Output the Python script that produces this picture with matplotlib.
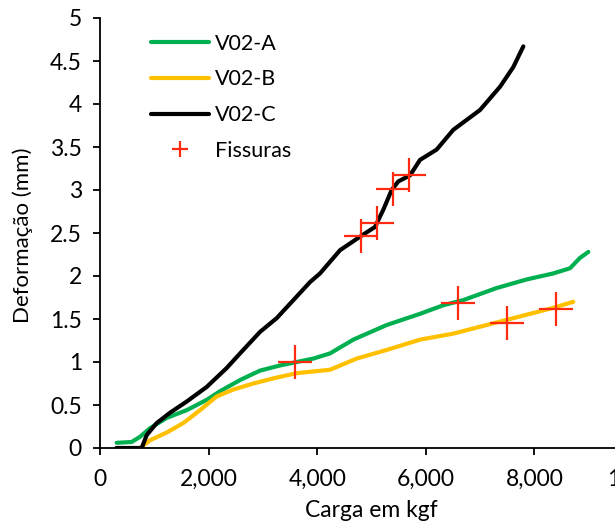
import matplotlib
matplotlib.use("Agg")
import matplotlib.pyplot as plt
from matplotlib.lines import Line2D
from matplotlib.ticker import FuncFormatter, MultipleLocator

plt.rcParams['font.family'] = ['Lato', 'DejaVu Sans']

# V02-A (green)
carga_a = [307, 583, 737, 921, 1228, 1596, 1965, 2210, 2579, 2947, 3316, 3623, 3930,
           4237, 4665, 5279, 5893, 6323, 6691, 7305, 7857, 8348, 8655, 8839, 8993]
deform_a = [0.06, 0.07, 0.13, 0.23, 0.35, 0.44, 0.56, 0.66, 0.79, 0.90, 0.96, 1.00, 1.04,
            1.10, 1.26, 1.43, 1.56, 1.66, 1.72, 1.86, 1.96, 2.03, 2.09, 2.21, 2.28]

# V02-B (yellow)
carga_b = [737, 921, 1228, 1535, 1842, 2149, 2456, 2824, 3193, 3623, 3930, 4237, 4727,
           5279, 5893, 6507, 7121, 7735, 8348, 8716]
deform_b = [0.0, 0.09, 0.18, 0.29, 0.44, 0.60, 0.68, 0.75, 0.81, 0.87, 0.89, 0.91, 1.04,
            1.14, 1.26, 1.33, 1.43, 1.53, 1.63, 1.70]

# V02-C (black)
carga_c = [300, 768, 860, 1044, 1289, 1596, 1965, 2333, 2579, 2947, 3254, 3562, 3869,
           4052, 4420, 4819, 5064, 5217, 5371, 5494, 5709, 5893, 6200, 6507, 6998,
           7366, 7612, 7796]
deform_c = [0.0, 0.0, 0.15, 0.29, 0.41, 0.54, 0.71, 0.93, 1.10, 1.35, 1.51, 1.72, 1.93,
            2.03, 2.30, 2.47, 2.57, 2.77, 3.00, 3.10, 3.17, 3.35, 3.47, 3.70, 3.93,
            4.20, 4.43, 4.67]

# Fissuras
carga_f = [3600, 4800, 5095, 5390, 5697, 6599, 7502, 8398]
deform_f = [1.00, 2.47, 2.62, 3.01, 3.18, 1.69, 1.45, 1.62]

fig = plt.figure(figsize=(6.15, 5.24), dpi=100)
ax = fig.add_axes([100 / 615, 76 / 524, 543 / 615, 430 / 524])

ax.plot(carga_a, deform_a, color='#00B050', lw=3, label='V02-A', solid_capstyle='round')
ax.plot(carga_b, deform_b, color='#FFC000', lw=3, label='V02-B', solid_capstyle='round')
ax.plot(carga_c, deform_c, color='black', lw=3, label='V02-C', solid_capstyle='round')
ax.plot(carga_f, deform_f, ls='none', marker='+', ms=24, mew=1.6, color='#FF2A10')

ax.set_xlim(0, 10000)
ax.set_ylim(0, 5)
ax.xaxis.set_major_locator(MultipleLocator(2000))
ax.yaxis.set_major_locator(MultipleLocator(0.5))
ax.xaxis.set_major_formatter(FuncFormatter(lambda v, p: '{:,.0f}'.format(v)))
ax.yaxis.set_major_formatter(FuncFormatter(lambda v, p: '{:g}'.format(v)))

for s in ['top', 'right']:
    ax.spines[s].set_visible(False)
for s in ['left', 'bottom']:
    ax.spines[s].set_linewidth(1.3)
ax.tick_params(direction='out', length=5, width=1.3, labelsize=16.5)
ax.tick_params(axis='x', pad=10)
ax.tick_params(axis='y', pad=8)

ax.set_xlabel('Carga em kgf', fontsize=16.5)
ax.xaxis.set_label_coords(0.5, -0.12)
ax.set_ylabel('Deformação (mm)', fontsize=16)
ax.yaxis.set_label_coords(-0.123, 0.495)

handles, labels = ax.get_legend_handles_labels()
handles.append(Line2D([], [], ls='none', marker='+', ms=12, mew=1.6, color='#FF2A10'))
labels.append('Fissuras')
ax.legend(handles, labels, loc='upper left', bbox_to_anchor=(142 / 615, 1 - 25 / 524),
          bbox_transform=fig.transFigure, frameon=False, fontsize=15.5,
          handlelength=2.7, handletextpad=0.3, labelspacing=0.73, borderaxespad=0)

fig.savefig('out.png', dpi=100)
